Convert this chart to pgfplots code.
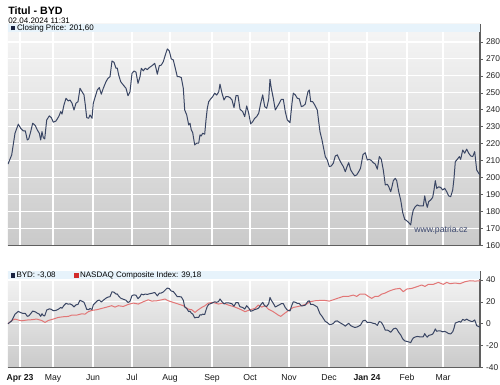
\documentclass[border=0pt]{standalone}
\usepackage{pgfplots}
\pgfplotsset{compat=1.18}
\usepackage{pgfplotstable}
\usepackage{fontspec}
\setmainfont{Liberation Sans}
\definecolor{navy}{RGB}{58,70,100}
\definecolor{navysq}{RGB}{25,35,65}
\definecolor{nred}{RGB}{226,118,118}
\definecolor{nredsq}{RGB}{210,45,45}
\definecolor{bandblue}{RGB}{231,243,251}
\definecolor{bgtop}{RGB}{246,246,246}
\definecolor{bgbot}{RGB}{202,202,202}
\definecolor{axgray}{RGB}{95,95,95}
\definecolor{wm}{RGB}{60,72,110}

\pgfplotstableread{
x p b
8 208.0 0
11.7 213.4 2.60
15 226.2 8.75
18.3 231.5 11.30
20.7 229.1 10.14
23.3 227.5 9.38
25.3 227.6 9.42
27.3 222.2 6.83
28.7 222.8 7.12
30.7 227.1 9.18
32.7 232.1 11.59
35.3 230.7 10.91
37.3 228.1 9.66
39.3 226.2 8.75
40.7 222.2 6.83
42 227.1 9.18
43.3 223.6 7.50
44.7 222.8 7.12
46.7 234.0 12.50
49.3 236.4 13.65
51.3 235.4 13.17
53.3 232.7 11.88
56 233.4 12.21
58.7 236.0 13.46
60.7 238.9 14.86
62 237.5 14.18
64 242.9 16.78
66 246.8 18.65
68.3 245.2 17.88
70 245.8 18.17
72 243.9 17.26
74 239.9 15.34
76 243.9 17.26
78 244.8 17.69
80 252.7 21.49
82 250.7 20.53
84 248.8 19.62
85.3 242.9 16.78
86.7 235.4 13.17
88.7 235.0 12.98
90 237.0 13.94
92 235.0 12.98
93.3 243.9 17.26
95.3 247.8 19.13
97.3 251.7 21.01
99.3 253.1 21.68
101.3 249.2 19.81
103.3 252.7 21.49
106 256.6 23.37
108 258.6 24.33
110 259.5 24.76
112 268.8 29.23
114 268.0 28.85
116 264.5 27.16
117.3 264.6 27.21
118.7 260.5 25.24
120.7 256.6 23.37
123.3 254.6 22.40
126 252.7 21.49
128 248.3 19.38
130 250.7 20.53
132 261.5 25.72
134 262.9 26.39
136 262.2 26.06
138 255.6 22.88
140 259.5 24.76
141.3 264.5 27.16
143.3 263.0 26.44
145.3 264.5 27.16
147.3 263.7 26.78
149.3 264.9 27.36
152 266.0 27.88
154.7 267.4 28.56
156 264.5 27.16
157.3 261.0 25.48
159.3 266.0 27.88
161.3 266.4 28.08
163.3 268.4 29.04
165.3 272.3 30.91
167.3 275.9 32.64
169.3 274.7 32.07
171.3 270.0 29.81
173.3 269.4 29.52
175.3 264.5 27.16
177.3 259.5 24.76
179.3 259.5 24.76
181.3 259.0 24.52
183.3 252.7 21.49
184.7 239.9 15.34
186.7 237.0 13.94
188.7 231.1 11.11
190 232.1 11.59
191.3 228.1 9.66
192.7 226.5 8.89
194.7 219.3 5.43
196.7 220.3 5.91
198.7 220.3 5.91
200 225.2 8.27
201.3 224.6 7.98
202.7 226.2 8.75
204.7 225.6 8.46
206 234.0 12.50
207.3 240.9 15.82
208.7 244.8 17.69
210.7 246.4 18.46
212.7 247.8 19.13
214.7 249.8 20.10
216.7 248.7 19.57
218.7 250.6 20.48
220 255.1 22.64
222 249.8 20.10
224 245.8 18.17
226 247.8 19.13
228 247.8 19.13
230 247.2 18.85
232 245.8 18.17
234 241.3 16.01
236 248.3 19.38
238 248.3 19.38
240 240.4 15.58
242.7 238.9 14.86
244.7 236.0 13.46
246.7 242.3 16.49
248.7 238.0 14.42
250.7 231.7 11.39
252.7 233.0 12.02
254.7 235.0 12.98
256.7 236.0 13.46
258.7 238.0 14.42
260.7 243.9 17.26
262.7 248.8 19.62
264.7 241.9 16.30
266.7 240.9 15.82
268.7 246.2 18.37
270 258.0 24.04
271.3 252.7 21.49
273.3 246.8 18.65
275.3 239.9 15.34
277.3 241.9 16.30
279.3 243.9 17.26
281.3 246.2 18.37
283.3 246.2 18.37
285.3 238.9 14.86
287.3 234.0 12.50
290 232.4 11.73
292 243.9 17.26
293.3 249.8 20.10
295.3 248.8 19.62
297.3 246.8 18.65
299.3 246.5 18.51
301.3 241.9 16.30
303.3 242.3 16.49
305.3 243.4 17.02
306.7 247.4 18.94
308 250.7 20.53
309.3 251.7 21.01
310.7 244.8 17.69
312.7 244.8 17.69
314.7 242.9 16.78
317.3 239.9 15.34
318.7 233.0 12.02
320 227.1 9.18
322 222.2 6.83
323.3 218.3 4.95
325.3 212.4 2.12
327.3 210.4 1.15
329.3 206.5 -0.72
331.3 206.9 -0.53
333.3 208.5 0.24
335.3 212.8 2.31
337.3 213.4 2.60
339.3 210.8 1.35
341.3 208.5 0.24
343.3 206.5 -0.72
345.3 203.5 -2.16
347.3 206.9 -0.53
348.7 208.8 0.38
350.7 204.5 -1.68
352.7 202.6 -2.60
354.7 201.0 -3.37
356.7 201.6 -3.08
358.7 203.5 -2.16
360.5 205.5 -1.20
363 213.6 2.69
365.3 214.7 3.22
367.3 210.4 1.15
369.3 210.8 1.35
371.3 210.1 1.01
373.3 208.8 0.38
375.3 208.0 0.00
377.3 205.0 -1.44
379.3 212.4 2.12
381.3 210.8 1.35
383.3 204.5 -1.68
385.3 195.7 -5.91
387.3 196.1 -5.72
388.7 194.7 -6.39
390.7 191.7 -7.84
392 194.7 -6.39
393.3 198.2 -4.71
395.3 199.6 -4.04
396.7 198.2 -4.71
398.7 191.7 -7.84
400.7 186.8 -10.19
402.7 179.4 -13.75
404.7 175.4 -15.67
406.7 174.6 -16.06
408.7 173.5 -16.59
410.7 172.1 -17.26
412 177.4 -14.71
413.3 180.9 -13.03
415.3 182.9 -12.07
417.3 183.9 -11.59
419.3 183.3 -11.88
421.3 183.3 -11.88
423.3 183.3 -11.88
424.7 189.2 -9.04
426 185.3 -10.91
427.3 182.5 -12.26
428.7 185.9 -10.63
430.7 186.8 -10.19
432.7 188.4 -9.42
434 192.7 -7.36
435.3 198.2 -4.71
436.7 193.7 -6.88
438.7 194.6 -6.44
440.7 194.2 -6.63
442.7 192.7 -7.36
444.7 193.7 -6.88
446.7 191.7 -7.84
448.7 189.2 -9.04
450.7 188.8 -9.23
452.7 192.7 -7.36
454 199.6 -4.04
455.3 209.4 0.67
457.3 210.8 1.35
459.3 212.4 2.12
460.7 210.8 1.35
462.7 216.3 3.99
464.7 214.4 3.08
466.7 216.8 4.23
468.7 214.4 3.08
470.7 212.8 2.31
472.7 212.4 2.12
474.7 215.3 3.51
476.7 204.5 -1.68
478.7 202.6 -2.60
480 201.6 -3.08
}\byd

\pgfplotstableread{
x n
8 0
11.7 3.0
15 4.3
18.3 3.4
21.7 2.7
26.7 3.4
31.7 3.7
36.7 4.3
41.7 3.0
45 1.2
48.3 3.0
53.3 4.3
58.3 5.8
63.3 6.4
68.3 6.7
71.7 7.9
76.7 7.9
81.7 9.1
85 8.8
88.3 11.0
91.7 12.2
96.7 12.8
101.7 14.0
106.7 15.2
111.7 16.5
115 15.2
118.3 16.5
123.3 15.8
128.3 17.7
133.3 18.9
138.3 18.0
143.3 20.1
148.3 21.9
151.7 20.7
156.7 21.0
161.7 21.9
165 22.6
168.3 21.0
173.3 19.5
178.3 18.0
183.3 16.5
188.3 13.4
191.7 12.8
195 10.4
198.3 12.8
201.7 14.9
205 16.5
208.3 18.9
213.3 19.5
218.3 18.0
223.3 18.9
228.3 17.1
233.3 15.8
238.3 14.0
243.3 11.9
245 11.0
250 12.8
255 14.0
258.3 17.1
261.7 15.2
265 16.5
268.3 13.4
273.3 11.0
278.3 7.9
280.7 6.7
285 9.8
288.3 11.9
293.3 14.9
298.3 15.8
303.3 17.1
306.7 18.0
310 20.1
315 21.0
320 21.3
325 21.3
329.3 20.7
333.3 21.9
338.3 23.5
343.3 25.0
348.3 25.0
353.3 26.2
356.7 25.0
360 27.1
365 27.1
368.3 25.0
371.7 23.2
375 25.0
378.3 25.0
381.7 27.1
385 28.0
390 30.2
395 31.7
400 32.3
403.3 29.3
406.7 31.7
411.7 32.3
416.7 33.8
421.7 35.4
425 34.1
428.3 36.0
433.3 36.0
438.3 37.8
443.3 36.0
446.7 37.8
450 36.6
455 37.2
460 36.6
465 38.4
470 39.3
475 39.0
480 39.2
}\nasdaq

\pgfplotsset{
  patria/.style={
    scale only axis, width=354pt,
    xmin=8, xmax=480,
    axis x line*=bottom, axis y line*=right,
    axis background/.style={top color=bgtop, bottom color=bgbot},
    grid=major, major grid style={white, line width=0.8pt},
    xtick={20,53,93,132,170,212,250,289,329,367,407,443},
    xtick style={draw=none},
    yticklabel pos=right,
    tick align=outside, major tick length=2pt,
    ytick style={axgray, line width=0.5pt},
    axis line style={axgray, line width=0.8pt},
    tick label style={font=\fontsize{6.3}{7}\selectfont, text=black!85},
    yticklabel style={xshift=-1pt},
  }
}

\begin{document}
\begin{tikzpicture}
\useasboundingbox (0pt,0pt) rectangle (375pt,-288.75pt);
\fill[white] (0pt,0pt) rectangle (375pt,-288.75pt);
\node[anchor=base west, inner sep=0pt, font=\fontsize{8}{9}\selectfont\bfseries] at (6pt,-11.25pt) {Titul - BYD};
\node[anchor=base west, inner sep=0pt, font=\fontsize{6}{7}\selectfont] at (6pt,-17.6pt) {02.04.2024 11:31};

\begin{axis}[patria,
  at={(6pt,-18pt)}, anchor=north west, height=166.1pt,
  ymin=160, ymax=290.6,
  xticklabels={},
  ytick={160,170,180,190,200,210,220,230,240,250,260,270,280},
  yticklabels={160,170,180,190,200,210,220,230,240,250,260,270,280},
]
\fill[bandblue] (axis cs:8,285.9) rectangle (axis cs:480,290.6);
\addplot[navy, line width=0.75pt, line join=round] table[x=x, y=p] {\byd};
\node[font=\fontsize{6.5}{7}\selectfont, text=wm] at (axis cs:441,169.2) {www.patria.cz};
\end{axis}
\node[anchor=west, inner sep=0pt, font=\fontsize{6}{7}\selectfont] at (8.2pt,-21.3pt)
  {\textcolor{navysq}{\rule{3.2pt}{3.2pt}}\hspace{1.2pt}Closing Price: 201,60};

\begin{axis}[patria,
  at={(6pt,-203.25pt)}, anchor=north west, height=72.4pt,
  ymin=-40, ymax=48.2,
  xticklabels={\textbf{Apr 23},May,Jun,Jul,Aug,Sep,Oct,Nov,Dec,\textbf{Jan 24},Feb,Mar},
  xticklabel style={font=\fontsize{6.5}{7}\selectfont, text=black!90, anchor=base, yshift=-7.5pt},
  ytick={-40,-20,0,20,40},
  yticklabels={-40,-20,0,20,40},
]
\fill[bandblue] (axis cs:8,40.9) rectangle (axis cs:480,48.2);
\addplot[nred, line width=0.75pt, line join=round] table[x=x, y=n] {\nasdaq};
\addplot[navy, line width=0.75pt, line join=round] table[x=x, y=b] {\byd};
\end{axis}
\node[anchor=west, inner sep=0pt, font=\fontsize{6}{7}\selectfont] at (7.8pt,-206.6pt)
  {\textcolor{navysq}{\rule{3.2pt}{3.2pt}}\hspace{1.2pt}BYD: -3,08};
\node[anchor=west, inner sep=0pt, font=\fontsize{6}{7}\selectfont] at (55.5pt,-206.6pt)
  {\textcolor{nredsq}{\rule{3.2pt}{3.2pt}}\hspace{1.2pt}NASDAQ Composite Index: 39,18};
\end{tikzpicture}
\end{document}
